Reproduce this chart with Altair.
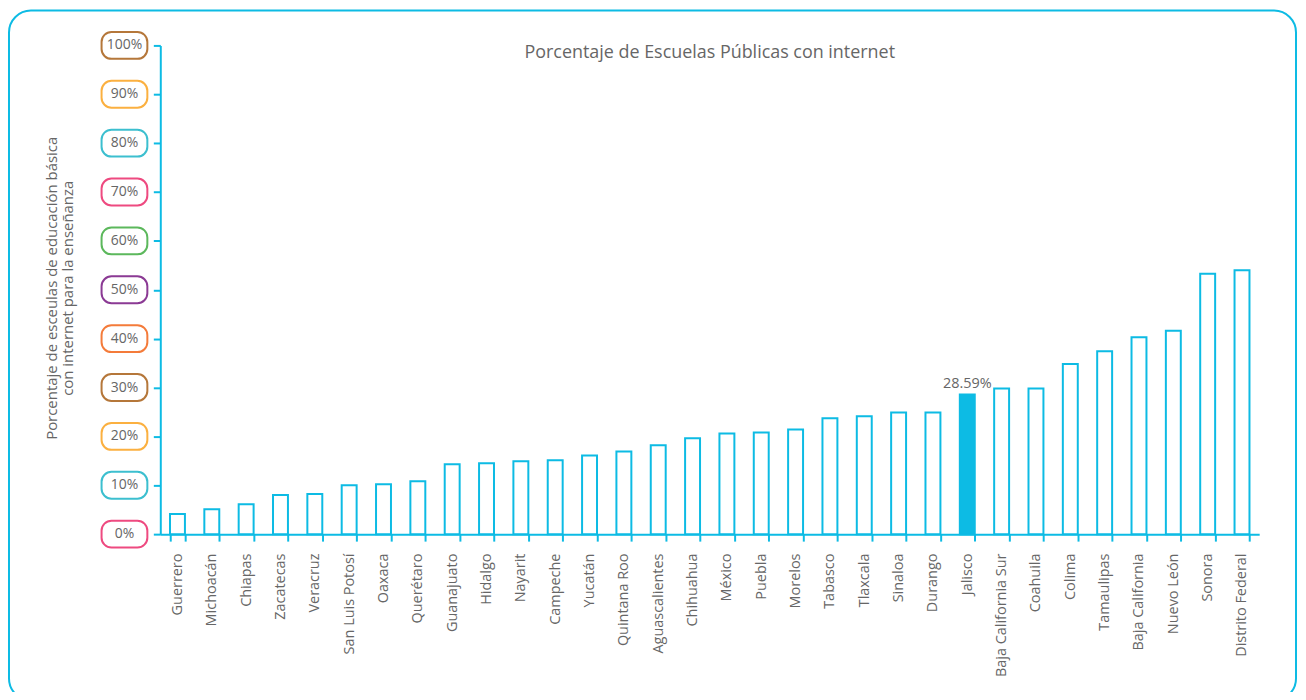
import altair as alt
import pandas as pd

estados = ["Guerrero", "Michoacán", "Chiapas", "Zacatecas", "Veracruz", "San Luis Potosí",
           "Oaxaca", "Querétaro", "Guanajuato", "Hidalgo", "Nayarit", "Campeche", "Yucatán",
           "Quintana Roo", "Aguascalientes", "Chihuahua", "México", "Puebla", "Morelos",
           "Tabasco", "Tlaxcala", "Sinaloa", "Durango", "Jalisco", "Baja California Sur",
           "Coahuila", "Colima", "Tamaulipas", "Baja California", "Nuevo León", "Sonora",
           "Distrito Federal"]
porcentajes = [4.1, 5.1, 6.1, 8.0, 8.2, 10.0, 10.2, 10.8, 14.3, 14.5, 14.9, 15.1, 16.1,
               16.9, 18.2, 19.6, 20.6, 20.8, 21.4, 23.7, 24.1, 24.9, 24.9, 28.59, 29.8,
               29.8, 34.8, 37.4, 40.3, 41.6, 53.3, 54.0]
destacado = "Jalisco"

tick_vals = [0, 10, 20, 30, 40, 50, 60, 70, 80, 90, 100]
tick_text = ["0%", "10%", "20%", "30%", "40%", "50%", "60%", "70%", "80%", "90%", "100%"]
tick_cols = ["#ee4a80", "#3cbfcf", "#fbb040", "#b5773a", "#f47b3a", "#8b3a94",
             "#5cb85c", "#ee4a80", "#3cbfcf", "#fbb040", "#b5773a"]

CYAN = "#0dbbe4"
GRAY = "#666666"
FONT = "Open Sans"

df = pd.DataFrame({"estado": estados, "pct": porcentajes})
df["fill"] = ["#0dbbe4" if e == destacado else "white" for e in estados]
ticks = pd.DataFrame({"v": tick_vals, "t": tick_text, "c": tick_cols})

xenc = alt.X("estado:N", sort=estados, title=None,
             scale=alt.Scale(paddingInner=0.565),
             axis=alt.Axis(labelAngle=-90, labelFont=FONT, labelFontSize=14.5,
                           labelColor=GRAY, labelPadding=12, tickSize=7, tickWidth=2,
                           tickColor=CYAN, domainColor=CYAN, domainWidth=2,
                           tickBand="extent"))
yscale = alt.Scale(domain=[0, 100], nice=False)

bars = alt.Chart(df).mark_bar(stroke=CYAN, strokeWidth=2).encode(
    x=xenc,
    y=alt.Y("pct:Q", scale=yscale, title=None,
            axis=alt.Axis(labels=False, tickSize=7, tickWidth=2, tickColor=CYAN,
                          domainColor=CYAN, domainWidth=2, grid=False,
                          values=tick_vals)),
    fill=alt.Fill("fill:N", scale=None),
)

label = alt.Chart(df[df["estado"] == destacado]).transform_calculate(
    pct_lbl="format(datum.pct, '.2f') + '%'"
).mark_text(
    font=FONT, fontSize=14.5, color=GRAY, baseline="bottom", dy=-3
).encode(
    x=alt.X("estado:N", sort=estados),
    y=alt.Y("pct:Q", scale=yscale),
    text="pct_lbl:N",
)

boxes = alt.Chart(ticks).transform_calculate(
    lo="datum.v - 2.75", hi="datum.v + 2.75"
).mark_rect(cornerRadius=10, fill="white", strokeWidth=2).encode(
    x=alt.value(-59), x2=alt.value(-13),
    y=alt.Y("lo:Q", scale=yscale), y2="hi:Q",
    stroke=alt.Stroke("c:N", scale=None),
)

box_text = alt.Chart(ticks).mark_text(font=FONT, fontSize=14, color=GRAY,
                                      align="center", baseline="middle").encode(
    x=alt.value(-36),
    y=alt.Y("v:Q", scale=yscale),
    text="t:N",
)

one = pd.DataFrame({"a": [0]})
title = alt.Chart(one).mark_text(font=FONT, fontSize=18, color=GRAY,
                                 align="center", baseline="middle").encode(
    x=alt.value(552), y=alt.value(8),
    text=alt.value("Porcentaje de Escuelas Públicas con internet"),
)

ytitle = alt.Chart(one).mark_text(font=FONT, fontSize=15, color=GRAY, angle=270,
                                  align="center", baseline="middle", lineHeight=16).encode(
    x=alt.value(-109), y=alt.value(244),
    text=alt.value(["Porcentaje de esceulas de educación básica",
                    "con internet para la enseñanza"]),
)

border = alt.Chart(one).mark_rect(cornerRadius=22, fill="transparent", stroke=CYAN,
                                  strokeWidth=2).encode(
    x=alt.value(-152), x2=alt.value(1141), y=alt.value(-35), y2=alt.value(658),
)

chart = alt.layer(border, bars, label, boxes, box_text, title, ytitle).properties(
    width=1104, height=491,
    autosize=alt.AutoSizeParams(type="none"),
    padding={"left": 153, "top": 36, "right": 39, "bottom": 157},
    background="white",
).configure_view(stroke=None)

chart.save("out.html", embed_options={"renderer": "svg", "actions": False})
